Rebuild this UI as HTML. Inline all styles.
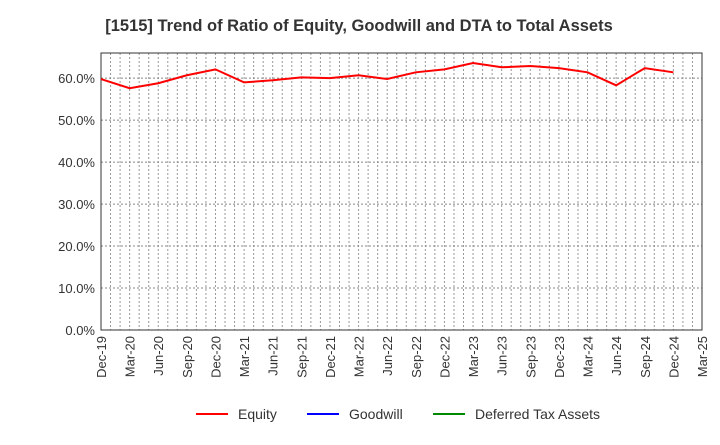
<!DOCTYPE html>
<html><head><meta charset="utf-8"><style>
body{margin:0;background:#fff;font-family:"Liberation Sans",sans-serif;}
</style></head><body>
<svg id="chart" width="720" height="440" xmlns="http://www.w3.org/2000/svg">
<text x="359" y="31" text-anchor="middle" font-size="16.5" font-weight="bold" fill="#333">[1515]  Trend of Ratio of Equity, Goodwill and DTA to Total Assets</text>
<g id="grid"></g><g id="axes"></g><g id="series"></g>
<g>
<g><line x1="196" y1="414" x2="228" y2="414" stroke="#f00" stroke-width="2"/><text x="238" y="419" font-size="14" fill="#333">Equity</text></g>
<g><line x1="307" y1="414" x2="339" y2="414" stroke="#00f" stroke-width="2"/><text x="349" y="419" font-size="14" fill="#333">Goodwill</text></g>
<g><line x1="433" y1="414" x2="465" y2="414" stroke="#080" stroke-width="2"/><text x="475" y="419" font-size="14" fill="#333">Deferred Tax Assets</text></g>
</g>
</svg>
<script>
const categories=["Dec-19","Mar-20","Jun-20","Sep-20","Dec-20","Mar-21","Jun-21","Sep-21","Dec-21","Mar-22","Jun-22","Sep-22","Dec-22","Mar-23","Jun-23","Sep-23","Dec-23","Mar-24","Jun-24","Sep-24","Dec-24","Mar-25"];
const equity=[59.8,57.6,58.8,60.7,62.1,59.0,59.5,60.2,60.0,60.7,59.8,61.4,62.1,63.6,62.6,62.9,62.4,61.4,58.3,62.4,61.4];
const yTicks=[0,10,20,30,40,50,60];
const L=101,R=702,T=53,B=330,YMAX=66;
const NS="http://www.w3.org/2000/svg";
const xs=i=>L+(R-L)*i/(categories.length-1);
const ys=v=>B-(B-T)*v/YMAX;
function mk(tag,attrs,parent){const e=document.createElementNS(NS,tag);for(const k in attrs)e.setAttribute(k,attrs[k]);document.getElementById(parent).appendChild(e);return e;}
const months=(categories.length-1)*3;
for(let m=1;m<months;m++){const x=L+(R-L)*m/months;
const g=mk("line",{x1:x,x2:x,y1:T,y2:B,stroke:"#999","stroke-dasharray":"2,2","stroke-width":1},"grid");

}
yTicks.forEach(v=>{const y=ys(v);
if(v>0){const g=mk("line",{x1:L,x2:R,y1:y,y2:y,stroke:"#888","stroke-dasharray":"2,2"},"grid");

}
const t=mk("text",{x:L-6,y:y+5,"text-anchor":"end","font-size":13,fill:"#333"},"axes");t.textContent=v.toFixed(1)+"%";

});
const fr=mk("rect",{x:L,y:T,width:R-L,height:B-T,fill:"none",stroke:"#333"},"axes");


categories.forEach((c,i)=>{const x=xs(i);
const t=mk("text",{x:x+5,y:B+6,"text-anchor":"end","font-size":13,fill:"#333",transform:`rotate(-90 ${x+5} ${B+6})`},"axes");t.textContent=c;

});
const p=mk("polyline",{points:equity.map((v,i)=>xs(i)+","+ys(v)).join(" "),fill:"none",stroke:"#f00","stroke-width":2},"series");


</script>
</body></html>
